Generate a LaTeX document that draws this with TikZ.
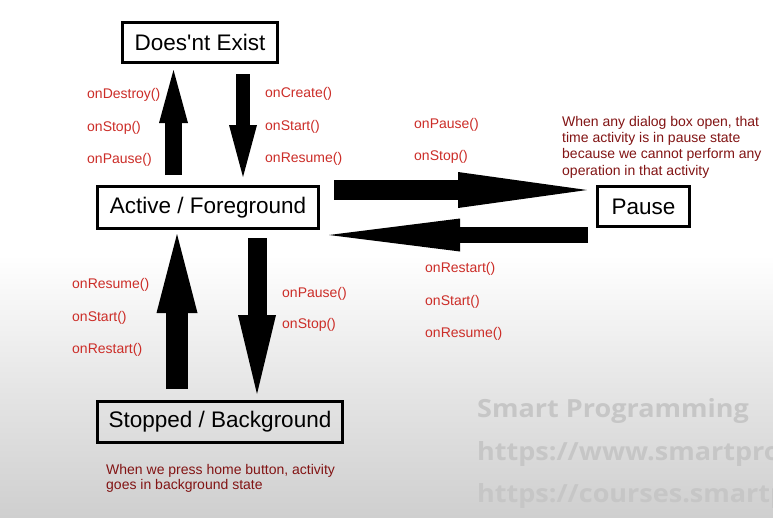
\documentclass[tikz,border=0pt]{standalone}
\usepackage{fontspec}
\setmainfont{Liberation Sans}
\newfontfamily\wmfont{Open Sans}[FakeStretch=1.08]
\usetikzlibrary{arrows.meta}
\definecolor{lblred}{RGB}{204,45,40}
\definecolor{notered}{RGB}{130,20,20}
\definecolor{wmgray}{RGB}{198,198,198}
\definecolor{bgmid}{RGB}{229,229,229}
\definecolor{bgbot}{RGB}{207,207,207}
\tikzset{
  state/.style={draw=black, line width=3pt, inner sep=0pt, font=\fontsize{22.5}{27}\selectfont},
  lbl/.style={anchor=west, inner sep=0pt, text=lblred, font=\fontsize{14}{16}\selectfont},
  note/.style={anchor=north west, inner sep=0pt, text=notered, align=left},
  wm/.style={anchor=base west, inner sep=0pt, text=wmgray, font=\wmfont\bfseries\fontsize{25}{28}\selectfont},
  blockarr/.style n args={3}{draw=black, line width=#1, -{Triangle[length=#3, width=#2, line width=0pt]}}
}
\begin{document}
\begin{tikzpicture}[x=1pt,y=-1pt]
\useasboundingbox (0,0) rectangle (773,517);
\begin{scope}
\clip (0,0) rectangle (773,517);
\fill[white] (0,0) rectangle (773,517);
\shade[top color=white, bottom color=bgmid] (0,255) rectangle (773,390);
\shade[top color=bgmid, bottom color=bgbot] (0,389.5) rectangle (773,517);
% watermark
\node[wm] (wm1) at (477,417) {Smart Programming};
\node[wm] (wm2) at (477,460) {https://www.smartprogramming.in};
\node[wm] (wm3) at (477,502) {https://courses.smartprogramming.in};
\end{scope}
% states
\node[state, minimum width=155pt, minimum height=40pt] (dne) at (200,42.5) {Does\textquotesingle nt Exist};
\node[state, minimum width=221pt, minimum height=42pt] (active) at (208,207.5) {Active / Foreground};
\node[state, minimum width=92pt, minimum height=40pt] (pause) at (643.5,206.5) {Pause};
\node[state, minimum width=245pt, minimum height=41pt] (stopped) at (220,422) {Stopped / Background};
% connectors
\draw[blockarr={17pt}{29pt}{53pt}, shorten <=10pt, shorten >=6pt]
  ([xshift=-34.5pt]active.north) -- ([xshift=-26.5pt]dne.south);
\draw[blockarr={14pt}{28pt}{52pt}, shorten <=10pt, shorten >=8pt]
  ([xshift=43pt]dne.south) -- ([xshift=35pt]active.north);
\draw[blockarr={20pt}{36pt}{129pt}, shorten <=14pt, shorten >=9pt]
  ([yshift=17.5pt]active.east) -- ([yshift=16.5pt]pause.west);
\draw[blockarr={16pt}{33pt}{131pt}, shorten <=8pt, shorten >=9pt]
  ([yshift=-28.5pt]pause.west) -- ([yshift=-27.5pt]active.east);
\draw[blockarr={22pt}{41pt}{79pt}, shorten <=11pt, shorten >=4pt]
  ([xshift=-43pt]stopped.north) -- ([xshift=-31pt]active.south);
\draw[blockarr={19pt}{38pt}{79pt}, shorten <=8pt, shorten >=6pt]
  ([xshift=49pt]active.south) -- ([xshift=37pt]stopped.north);
% labels
\node[lbl] (l1) at (87,95) {onDestroy()};
\node[lbl] (l2) at (87,128) {onStop()};
\node[lbl] (l3) at (87,160) {onPause()};
\node[lbl] (l4) at (265,94) {onCreate()};
\node[lbl] (l5) at (265,127) {onStart()};
\node[lbl] (l6) at (265,159) {onResume()};
\node[lbl] (l7) at (414,125) {onPause()};
\node[lbl] (l8) at (414,157) {onStop()};
\node[lbl] (l9) at (425,269) {onRestart()};
\node[lbl] (l10) at (425,302) {onStart()};
\node[lbl] (l11) at (425,334) {onResume()};
\node[lbl] (l12) at (72,285) {onResume()};
\node[lbl] (l13) at (72,318) {onStart()};
\node[lbl] (l14) at (72,350) {onRestart()};
\node[lbl] (l15) at (282,294) {onPause()};
\node[lbl] (l16) at (282,325) {onStop()};
% notes
\node[note, font=\fontsize{14}{16.3}\selectfont] (n1) at (562,116)
  {When any dialog box open, that\\time activity is in pause state\\because we cannot perform any\\operation in that activity};
\node[note, font=\fontsize{14}{15.2}\selectfont] (n2) at (106,464)
  {When we press home button, activity\\goes in background state};
\end{tikzpicture}
\end{document}
